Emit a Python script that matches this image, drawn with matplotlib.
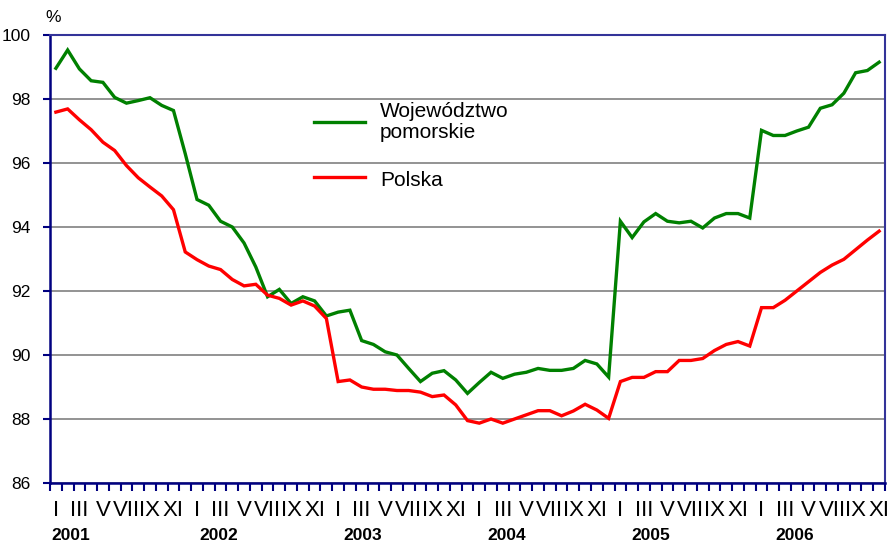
import matplotlib
matplotlib.use("Agg")
import matplotlib.pyplot as plt
from matplotlib.ticker import FixedLocator

# ---- data ----
years = ["2001", "2002", "2003", "2004", "2005", "2006"]
month_labels = ["I", "", "III", "", "V", "", "VII", "", "IX", "", "XI", ""]

pomorskie = [
    98.96, 99.53, 98.94, 98.57, 98.52, 98.05, 97.87, 97.95, 98.04, 97.80, 97.64, 96.29,
    94.86, 94.68, 94.18, 94.00, 93.50, 92.75, 91.82, 92.05, 91.61, 91.82, 91.69, 91.22,
    91.34, 91.40, 90.45, 90.33, 90.10, 90.00, 89.58, 89.17, 89.43, 89.51, 89.22, 88.80,
    89.14, 89.46, 89.27, 89.40, 89.46, 89.58, 89.52, 89.52, 89.58, 89.83, 89.72, 89.31,
    94.18, 93.67, 94.16, 94.42, 94.18, 94.13, 94.18, 93.97, 94.28, 94.42, 94.42, 94.28,
    97.02, 96.86, 96.86, 97.00, 97.12, 97.71, 97.82, 98.18, 98.82, 98.89, 99.15,
]
polska = [
    97.59, 97.69, 97.35, 97.04, 96.65, 96.39, 95.92, 95.54, 95.25, 94.97, 94.54, 93.22,
    92.98, 92.78, 92.67, 92.36, 92.16, 92.21, 91.87, 91.77, 91.56, 91.69, 91.53, 91.14,
    89.17, 89.22, 89.00, 88.93, 88.93, 88.89, 88.89, 88.84, 88.70, 88.75, 88.44, 87.95,
    87.87, 88.00, 87.87, 88.00, 88.13, 88.26, 88.26, 88.10, 88.25, 88.46, 88.28, 88.02,
    89.17, 89.30, 89.30, 89.48, 89.48, 89.83, 89.83, 89.89, 90.14, 90.33, 90.42, 90.28,
    91.48, 91.48, 91.71, 92.00, 92.29, 92.58, 92.81, 92.99, 93.29, 93.59, 93.87,
]
series_names = ["Województwo\npomorskie", "Polska"]

# ---- figure ----
W, H = 890, 544
fig = plt.figure(figsize=(W / 100, H / 100), dpi=100)
left, right, top, bottom = 50, 885, 35, 483
ax = fig.add_axes([left / W, 1 - bottom / H, (right - left) / W, (bottom - top) / H])

n = len(polska)
x = list(range(n))
navy = "#000080"
frame = "#333399"

ax.plot(x, pomorskie, color="#008000", lw=2.4, solid_joinstyle="miter", zorder=3)
ax.plot(x, polska, color="#FF0000", lw=2.4, solid_joinstyle="miter", zorder=3)

ax.set_xlim(-0.5, n - 0.5)
ax.set_ylim(86, 100)

# y axis
ax.set_yticks(range(86, 101, 2))
ax.set_yticklabels([str(v) for v in range(86, 101, 2)], fontsize=12.5,
                   family=["Liberation Sans", "DejaVu Sans"])
ax.tick_params(axis="y", direction="out", length=5, width=1.5, color=navy, pad=9)
ax.yaxis.grid(True, color="#808080", lw=1.2)
ax.set_axisbelow(True)

# x axis: ticks at category boundaries, labels at centres
ax.xaxis.set_minor_locator(FixedLocator([i - 0.5 for i in range(n + 1)]))
ax.set_xticks(x)
labels = [month_labels[i % 12] for i in x]
ax.set_xticklabels(labels, fontsize=16, family=["Liberation Sans Narrow", "Liberation Sans"])
ax.tick_params(axis="x", which="major", length=0, pad=12)
ax.tick_params(axis="x", which="minor", direction="out", length=6, width=1.5, color=navy)

# year labels
year_pos = [1.28, 13.87, 26.1, 38.3, 50.6, 62.8]
for yr, xp in zip(years, year_pos):
    ax.text(xp, -0.117, yr, transform=ax.get_xaxis_transform(), ha="center", va="center",
            fontsize=12.5, fontweight="bold", family=["Liberation Sans Narrow", "Liberation Sans"],
            clip_on=False)

# spines
ax.spines["left"].set_color(navy)
ax.spines["left"].set_linewidth(1.8)
ax.spines["bottom"].set_color(navy)
ax.spines["bottom"].set_linewidth(1.8)
ax.spines["top"].set_color(frame)
ax.spines["top"].set_linewidth(1.5)
ax.spines["right"].set_color(frame)
ax.spines["right"].set_linewidth(1.5)

# % label
fig.text(53 / W, 1 - 17 / H, "%", ha="center", va="center", fontsize=12.5,
         family=["Liberation Sans", "DejaVu Sans"])

# legend drawn manually
def px2data(px, py):
    xd = (px - 55.9) / ((right - left) / n)
    yd = 100 - (py - top) / ((bottom - top) / 14)
    return xd, yd

lx0, ly = px2data(314, 122)
lx1, _ = px2data(365, 122)
ax.plot([lx0, lx1], [ly, ly], color="#008000", lw=2.4, zorder=3)
tx, ty = px2data(380, 122)
ax.text(tx, ty, series_names[0], ha="left", va="center", fontsize=15, linespacing=1.1,
        family=["Liberation Sans", "DejaVu Sans"])
lx0, ly = px2data(314, 177)
lx1, _ = px2data(365, 177)
ax.plot([lx0, lx1], [ly, ly], color="#FF0000", lw=2.4, zorder=3)
tx, ty = px2data(380, 180)
ax.text(tx, ty, series_names[1], ha="left", va="center", fontsize=15,
        family=["Liberation Sans", "DejaVu Sans"])

fig.savefig("out.png", dpi=100)
